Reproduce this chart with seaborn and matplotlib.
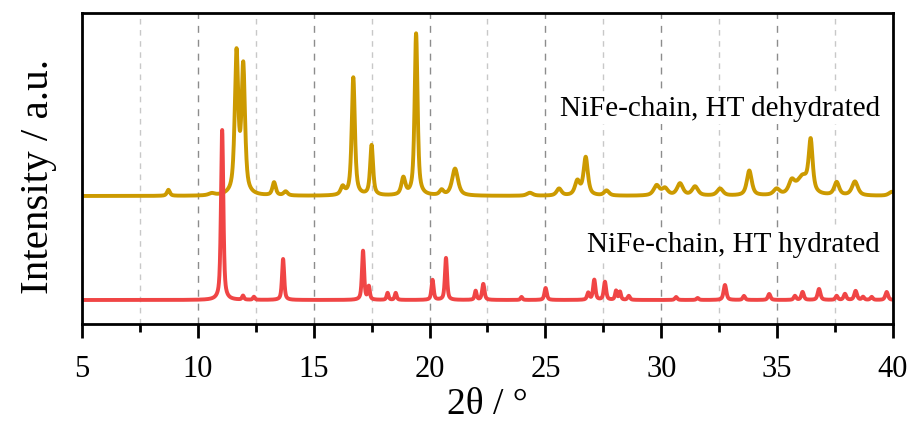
import numpy as np
import pandas as pd
import matplotlib
matplotlib.use("Agg")
import matplotlib.pyplot as plt
from matplotlib.ticker import MultipleLocator
import seaborn as sns

# peak lists (2theta, height, FWHM)
hyd_pos = [11.05, 11.95, 12.42, 13.68, 17.13, 17.38, 18.19, 18.54, 20.13, 20.71,
           21.99, 22.32, 23.97, 25.01, 26.85, 27.11, 27.57, 28.05, 28.22, 28.6,
           30.64, 31.57, 32.75, 33.57, 34.66, 35.77, 36.1, 36.81, 37.57, 37.93,
           38.39, 38.71, 39.08, 39.73]
hyd_h = [170, 4, 3, 41, 49, 13, 7, 7, 20, 42,
         9, 16, 3, 12, 7, 20, 18, 9, 8, 4,
         3, 2, 15, 4, 6, 4, 8, 11, 4, 6,
         9, 3, 3, 8]
hyd_w = [0.12, 0.1, 0.1, 0.11, 0.11, 0.1, 0.1, 0.1, 0.11, 0.11,
         0.1, 0.12, 0.1, 0.12, 0.12, 0.12, 0.12, 0.1, 0.1, 0.12,
         0.12, 0.12, 0.14, 0.12, 0.13, 0.12, 0.13, 0.14, 0.12, 0.13,
         0.14, 0.12, 0.12, 0.14]

dehyd_pos = [8.73, 10.6, 11.67, 11.96, 13.29, 13.79, 16.25, 16.71, 17.5, 18.87,
             19.42, 20.52, 21.1, 24.33, 25.59, 26.38, 26.74, 27.64, 29.8, 30.16,
             30.81, 31.46, 32.54, 33.8, 34.98, 35.63, 36.1, 36.45, 37.57, 38.36,
             39.95]
dehyd_h = [6, 2, 140, 126, 13, 4, 8, 118, 50, 17,
           162, 5, 27, 3, 7, 14, 38, 5, 10, 7,
           12, 9, 7, 25, 6, 12, 18, 50, 13, 14,
           4]
dehyd_w = [0.15, 0.3, 0.18, 0.18, 0.17, 0.2, 0.2, 0.16, 0.15, 0.2,
           0.15, 0.2, 0.3, 0.3, 0.25, 0.25, 0.22, 0.25, 0.3, 0.3,
           0.3, 0.3, 0.3, 0.25, 0.3, 0.3, 0.6, 0.2, 0.25, 0.3,
           0.3]

dehyd_offset = 104
x_min, x_max = 5, 40

labels = ["NiFe-chain, HT dehydrated", "NiFe-chain, HT hydrated"]
colors = ["#cc9a00", "#f04545"]


def pattern(tt, pos, h, w, eta=0.6):
    y = np.zeros_like(tt)
    for p, a, fw in zip(pos, h, w):
        g = np.exp(-4 * np.log(2) * ((tt - p) / fw) ** 2)
        lo = 1 / (1 + 4 * ((tt - p) / fw) ** 2)
        y += a * (eta * lo + (1 - eta) * g)
    return y


two_theta = np.linspace(x_min, x_max, 3501)
df = pd.concat([
    pd.DataFrame({"2theta": two_theta,
                  "I": pattern(two_theta, dehyd_pos, dehyd_h, dehyd_w, eta=0.7) + dehyd_offset,
                  "sample": labels[0]}),
    pd.DataFrame({"2theta": two_theta,
                  "I": pattern(two_theta, hyd_pos, hyd_h, hyd_w),
                  "sample": labels[1]}),
])

sns.set_style("ticks", {"axes.edgecolor": "black", "xtick.color": "black",
                        "text.color": "black", "axes.labelcolor": "black"})
plt.rcParams["font.family"] = ["Liberation Serif", "DejaVu Serif"]

fig = plt.figure(figsize=(9.12, 4.21), dpi=100)
ax = fig.add_axes([0.0899, 0.2304, 0.8892, 0.7386])

sns.lineplot(data=df, x="2theta", y="I", hue="sample", palette=colors,
             linewidth=2.8, legend=False, ax=ax, estimator=None, sort=False)

ax.set_xlim(x_min, x_max)
ax.set_ylim(-24, 287)
ax.set_yticks([])
ax.xaxis.set_major_locator(MultipleLocator(5))
ax.xaxis.set_minor_locator(MultipleLocator(2.5))
ax.tick_params(axis="x", which="major", length=10, width=2, labelsize=22, pad=12,
               colors="black")
ax.tick_params(axis="x", which="minor", length=6, width=2, colors="black")
for s in ax.spines.values():
    s.set_linewidth(2)
    s.set_color("black")

ax.grid(True, axis="x", which="major", color="#8c8c8c", linestyle=(0, (5, 5)), linewidth=1)
ax.grid(True, axis="x", which="minor", color="#c8c8c8", linestyle=(0, (4, 4)), linewidth=1)
ax.set_axisbelow(True)

ax.set_xlabel("2θ / °", fontsize=27, labelpad=3, color="black")
ax.set_ylabel("Intensity / a.u.", fontsize=29.5, color="black")
ax.yaxis.set_label_coords(-0.054, 0.473)
ax.yaxis.label.set_verticalalignment("center")

ax.text(0.984, 0.69, labels[0], transform=ax.transAxes, ha="right", va="center",
        fontsize=21, color="black", bbox=dict(facecolor="white", edgecolor="none", pad=1))
ax.text(0.984, 0.255, labels[1], transform=ax.transAxes, ha="right", va="center",
        fontsize=21, color="black", bbox=dict(facecolor="white", edgecolor="none", pad=1))

fig.savefig("out.png", dpi=100)
